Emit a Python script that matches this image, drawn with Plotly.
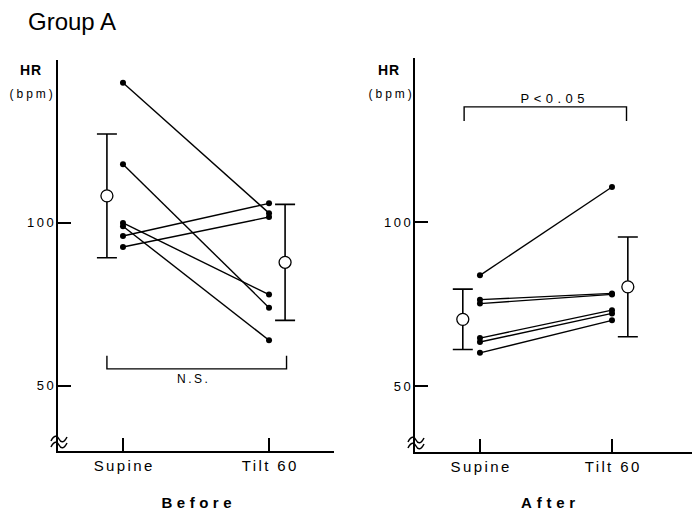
import plotly.graph_objects as go

W, H = 692, 510

# ---------------- data ----------------
categories = ["Supine", "Tilt 60"]

# Before: individual subjects (Supine, Tilt 60)
before_supine = [143, 118, 100, 99, 96, 92.6]
before_tilt = [103, 74, 78, 64, 106, 101.8]
before_mean = [108.3, 87.9]
before_sd = [19.0, 17.8]

# After: individual subjects (Supine, Tilt 60)
after_supine = [83.8, 76.4, 75.2, 64.7, 63.5, 60.2]
after_tilt = [110.7, 78.3, 78.0, 73.2, 72.2, 70.1]
after_mean = [70.4, 80.3]
after_sd = [9.2, 15.2]

y_ticks = [50, 100]
y_range = [30, 150]

FONT = "Liberation Sans, Arial, Helvetica, sans-serif"


def fx(p):
    return p / W


def fy(p):
    return 1 - p / H


fig = go.Figure()


def add_panel(xa, ya, sup, til, mean, sd, mean_off):
    for s, t in zip(sup, til):
        fig.add_trace(go.Scatter(
            x=[0, 1], y=[s, t], mode="lines+markers",
            line=dict(color="black", width=1.4),
            marker=dict(color="black", size=6),
            xaxis=xa, yaxis=ya, showlegend=False, hoverinfo="skip"))
    fig.add_trace(go.Scatter(
        x=[0 - mean_off[0], 1 + mean_off[1]], y=mean, mode="markers",
        marker=dict(symbol="circle", size=12, color="white",
                    line=dict(color="black", width=1.3)),
        error_y=dict(type="data", array=sd, visible=True, color="black",
                     thickness=1.6, width=10),
        xaxis=xa, yaxis=ya, showlegend=False, hoverinfo="skip"))


add_panel("x", "y", before_supine, before_tilt, before_mean, before_sd, (0.11, 0.11))
add_panel("x2", "y2", after_supine, after_tilt, after_mean, after_sd, (0.13, 0.12))

xcommon = dict(showline=True, linecolor="black", linewidth=2, ticks="inside",
               ticklen=13, tickwidth=1.6, tickcolor="black", tickvals=[0, 1],
               ticktext=categories, showgrid=False, zeroline=False,
               tickfont=dict(family=FONT, size=15, color="black"))
ycommon = dict(showline=True, linecolor="black", linewidth=2, ticks="inside",
               ticklen=13, tickwidth=1.6, tickcolor="black", tickvals=y_ticks,
               range=y_range, showgrid=False, zeroline=False,
               tickfont=dict(family=FONT, size=13, color="black"))

fig.update_layout(
    width=W, height=H, margin=dict(l=0, r=0, t=0, b=0),
    paper_bgcolor="white", plot_bgcolor="white",
    xaxis=dict(domain=[fx(58), fx(334)], range=[-0.445, 1.445], anchor="y", **xcommon),
    yaxis=dict(domain=[fy(451), fy(60)], anchor="x", **ycommon),
    xaxis2=dict(domain=[fx(415), fx(692)], range=[-0.492, 1.606], anchor="y2", **xcommon),
    yaxis2=dict(domain=[fy(452), fy(58)], anchor="x2", **ycommon),
)


def ppath(pts):
    out = []
    for cmd, coords in pts:
        out.append(cmd + " " + " ".join(f"{fx(a):.5f},{fy(b):.5f}" for a, b in coords))
    return " ".join(out)


def wave(cx, cy):
    return ppath([("M", [(cx - 8, cy + 2)]),
                  ("C", [(cx - 5, cy - 4), (cx - 2, cy - 4), (cx, cy)]),
                  ("C", [(cx + 2, cy + 4), (cx + 5, cy + 4), (cx + 8, cy - 2)])])


# brackets + axis break marks
shapes = [
    dict(type="path", xref="x", yref="y",
         path="M -0.11 59.2 L -0.11 55.2 L 1.12 55.2 L 1.12 59.2",
         line=dict(color="black", width=1.4)),
    dict(type="path", xref="x2", yref="y2",
         path="M -0.12 130.8 L -0.12 135.1 L 1.11 135.1 L 1.11 130.8",
         line=dict(color="black", width=1.4)),
]
for cx, cy in [(59, 439), (59, 445), (416, 440), (416, 446)]:
    shapes.append(dict(type="path", xref="paper", yref="paper", path=wave(cx, cy),
                       line=dict(color="black", width=1.5)))
fig.update_layout(shapes=shapes)

ann = []


def txt(text, x, y, size, bold=False, xanchor="center"):
    ann.append(dict(text=f"<b>{text}</b>" if bold else text, x=fx(x), y=fy(y),
                    xref="paper", yref="paper", showarrow=False,
                    xanchor=xanchor, yanchor="middle",
                    font=dict(family=FONT, size=size, color="black")))


txt("Group A", 26, 22, 24, xanchor="left")
txt("HR", 31, 70, 14, bold=True)
txt("(bpm)", 32, 94, 12)
txt("HR", 389, 70, 14, bold=True)
txt("(bpm)", 391, 94, 12)
txt("N.S.", 193, 379, 12)
txt("P<0.05", 555, 99, 13)
txt("Before", 199, 502, 15, bold=True)
txt("After", 550, 502, 15, bold=True)
fig.update_layout(annotations=ann)

post = """
var gd = document.getElementById('{plot_id}');
var sp = {'(bpm)': '3px', 'N.S.': '2.5px', 'P<0.05': '4.5px', 'Before': '4.5px',
          'After': '4.8px', 'HR': '1px'};
gd.querySelectorAll('.annotation-text').forEach(function(t){
  var v = sp[t.textContent];
  if (v) { t.style.letterSpacing = v; }
});
gd.querySelectorAll('.xtick text, .x2tick text').forEach(function(t){
  t.style.letterSpacing = '2.4px'; t.setAttribute('dx', '1.2');
});
gd.querySelectorAll('.ytick text, .y2tick text').forEach(function(t){
  t.style.letterSpacing = '2.6px'; t.setAttribute('dx', '3');
});
"""

fig.write_html("out.html", post_script=post)
